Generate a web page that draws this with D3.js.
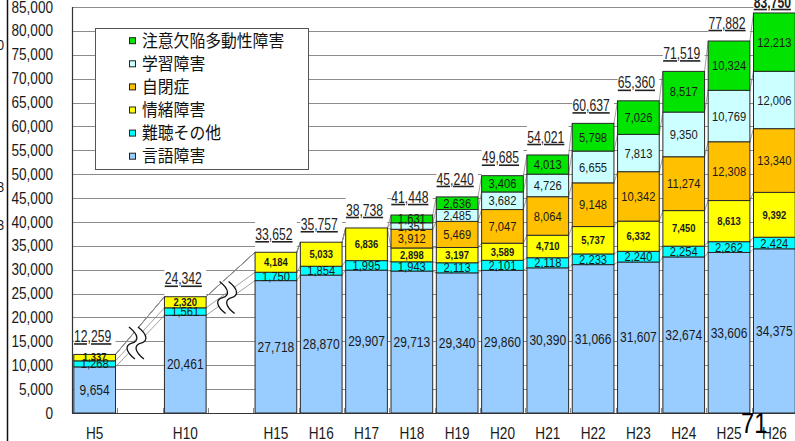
<!DOCTYPE html>
<html><head><meta charset="utf-8">
<script src="https://cdn.jsdelivr.net/npm/d3@7"></script>
<style>html,body{margin:0;padding:0;background:#fff;overflow:hidden}</style>
</head><body>
<svg id="c" width="795" height="441"></svg>
<script>
// ---------------- data ----------------
const categories = ["H5","H10","H15","H16","H17","H18","H19","H20","H21","H22","H23","H24","H25","H26"];
const breaksAfter = ["H5","H10"];
const yTickValues = [0,5000,10000,15000,20000,25000,30000,35000,40000,45000,50000,55000,60000,65000,70000,75000,80000,85000];
const seriesNames = ["言語障害","難聴その他","情緒障害","自閉症","学習障害","注意欠陥多動性障害"];
const gengo    = [9654,20461,27718,28870,29907,29713,29340,29860,30390,31066,31607,32674,33606,34375];
const nancho   = [1268,1561,1750,1854,1995,1943,2113,2101,2118,2233,2240,2254,2262,2424];
const jocho    = [1337,2320,4184,5033,6836,2898,3197,3589,4710,5737,6332,7450,8613,9392];
const jiheisho = [0,0,0,0,0,3912,5469,7047,8064,9148,10342,11274,12308,13340];
const gakushu  = [0,0,0,0,0,1351,2485,3682,4726,6655,7813,9350,10769,12006];
const adhd     = [0,0,0,0,0,1631,2636,3406,4013,5798,7026,8517,10324,12213];
const totals   = [12259,24342,33652,35757,38738,41448,45240,49685,54021,60637,65360,71519,77882,83750];
const pageNumber = "71";
const edgeFragments = [["0",45],["8",187],["3",225]];

// ---------------- styles ----------------
const colors = ["#99ccff","#00ffff","#ffff00","#ffc000","#ccffff","#00e400"];
const labelSize = [14,13,11,13,13,13];
const labelBold = [false,false,true,false,false,false];
const NUM_FONT = "'Liberation Sans', Arial, sans-serif";
const JP_FONT = "'Noto Sans CJK JP', sans-serif";

const svg = d3.select("#c");
const W = 795, H = 441;

// slots with gaps for axis breaks
const slots = [];
categories.forEach(c => { slots.push(c); if (breaksAfter.includes(c)) slots.push("_gap_" + c); });

const x = d3.scaleBand().domain(slots).range([72, 797]).paddingInner(0.08).paddingOuter(0.04);
const y = d3.scaleLinear().domain([0, 85000]).range([413, 7]);
const bw = x.bandwidth();

const seriesArrays = [gengo, nancho, jocho, jiheisho, gakushu, adhd];
const rows = categories.map((c, i) => {
  const r = {cat: c};
  seriesNames.forEach((s, k) => r[s] = seriesArrays[k][i]);
  return r;
});
const stacked = d3.stack().keys(seriesNames)(rows);

function txt(parent, tx, ty, str, size, sx, anchor, opts = {}) {
  const g = parent.append("g").attr("transform", `translate(${tx},${ty}) scale(${sx},1)`);
  const t = g.append("text").attr("x", 0).attr("y", 0)
    .attr("text-anchor", anchor)
    .attr("font-family", opts.font || NUM_FONT)
    .attr("font-size", size)
    .attr("fill", opts.fill || "#1a1a1a")
    .attr("font-weight", opts.bold ? "bold" : "normal")
    .attr("dy", opts.dy || "0.35em")
    .text(str);
  if (opts.underline) t.style("text-decoration", "underline");
  return t;
}

// left black edge line and clipped fragments
svg.append("line").attr("x1", 7.5).attr("x2", 7.5).attr("y1", 0).attr("y2", H)
  .attr("stroke", "#111").attr("stroke-width", 1.5);
edgeFragments.forEach(([s, yy]) => txt(svg, 4, yy, s, 15, 0.85, "end"));

// gridlines
svg.append("g").selectAll("line").data(yTickValues).join("line")
  .attr("x1", 72).attr("x2", W)
  .attr("y1", d => Math.round(y(d)) + 0.5).attr("y2", d => Math.round(y(d)) + 0.5)
  .attr("stroke", "#8c8c8c").attr("stroke-width", 1);

// white blocks above each bar (hide gridlines behind total labels)
svg.append("g").selectAll("rect").data(categories).join("rect")
  .attr("x", d => x(d)).attr("width", bw)
  .attr("y", (d, i) => y(totals[i]) - 32).attr("height", 32)
  .attr("fill", "#fff");

// series lines
const slg = svg.append("g");
stacked.forEach(layer => {
  for (let i = 0; i < categories.length - 1; i++) {
    slg.append("line")
      .attr("x1", x(categories[i]) + bw).attr("y1", y(layer[i][1]))
      .attr("x2", x(categories[i + 1])).attr("y2", y(layer[i + 1][1]))
      .attr("stroke", "#8a8a8a").attr("stroke-width", 0.8);
  }
});

// break marks
breaksAfter.forEach(c => {
  const i = categories.indexOf(c);
  const gx = x("_gap_" + c) + bw / 2 - 5;
  const t = (gx - (x(categories[i]) + bw)) / (x(categories[i + 1]) - (x(categories[i]) + bw));
  const yb = y(stacked[0][i][1]) + t * (y(stacked[0][i + 1][1]) - y(stacked[0][i][1]));
  const yc = y(stacked[1][i][1]) + t * (y(stacked[1][i + 1][1]) - y(stacked[1][i][1]));
  const cy = (yb + yc) / 2;
  const g = svg.append("g").attr("transform", `translate(${gx},${cy})`);
  const s = (dx) => `M${dx - 3},-16 C${dx + 7},-8 ${dx + 7},-2 ${dx},0 C${dx - 7},2 ${dx - 7},8 ${dx + 3},16`;
  g.append("path").attr("d", `M-6,-16 C4,-8 4,-2 -3,0 C-10,2 -10,8 0,16 L9,16 C-1,8 -1,2 6,0 C13,-2 13,-8 3,-16 Z`)
    .attr("fill", "#fff").attr("stroke", "none");
  [-3, 6].forEach(dx => g.append("path").attr("d", s(dx)).attr("fill", "none")
    .attr("stroke", "#111").attr("stroke-width", 1.3));
});

// bars
const barG = svg.append("g");
stacked.forEach((layer, k) => {
  barG.append("g").selectAll("rect").data(layer.filter(d => d[1] - d[0] > 0)).join("rect")
    .attr("x", d => x(d.data.cat)).attr("width", bw)
    .attr("y", d => y(d[1])).attr("height", d => y(d[0]) - y(d[1]))
    .attr("fill", colors[k]).attr("stroke", "#2a2a2a").attr("stroke-width", 1);
});

// segment labels
const labG = svg.append("g");
stacked.forEach((layer, k) => {
  layer.forEach(d => {
    const v = d[1] - d[0];
    if (v <= 0) return;
    const cx = x(d.data.cat) + bw / 2;
    const cy = (y(d[0]) + y(d[1])) / 2;
    txt(labG, cx, cy, d3.format(",")(v), labelSize[k], 0.86, "middle", {bold: labelBold[k]});
  });
});

// total labels
categories.forEach((c, i) => {
  const ty = Math.max(y(totals[i]) - 18, 2);
  txt(svg, x(c) + bw / 2 - 2, ty, d3.format(",")(totals[i]), 16, 0.76, "middle",
    {underline: true, fill: "#222", bold: i === categories.length - 1});
});

// category ticks (between slots)
const step = x.step();
const tg = svg.append("g");
for (let k = 1; k < slots.length; k++) {
  const bx = Math.round(x(slots[k]) - (step - bw) / 2) + 0.5;
  tg.append("line").attr("x1", bx).attr("x2", bx).attr("y1", 413).attr("y2", 408)
    .attr("stroke", "#8c8c8c");
}

// axes lines
svg.append("line").attr("x1", 72.5).attr("x2", 72.5).attr("y1", 7).attr("y2", 413.5)
  .attr("stroke", "#333").attr("stroke-width", 1.2);
svg.append("line").attr("x1", 72).attr("x2", W).attr("y1", 413.5).attr("y2", 413.5)
  .attr("stroke", "#333").attr("stroke-width", 1.2);

// y tick labels
yTickValues.forEach(v => txt(svg, 53, y(v), d3.format(",")(v), 16, 0.85, "end"));

// x labels
categories.forEach(c => txt(svg, x(c) + bw / 2, 439, c, 16, 0.85, "middle", {dy: "0"}));

// legend
const lg = svg.append("g");
lg.append("rect").attr("x", 95.5).attr("y", 28.5).attr("width", 213).attr("height", 141)
  .attr("fill", "#fff").attr("stroke", "#555").attr("stroke-width", 1);
const legendOrder = d3.range(seriesNames.length).reverse();
legendOrder.forEach((k, j) => {
  const ly = 40.7 + j * 23.1;
  lg.append("rect").attr("x", 129.5).attr("y", ly - 3).attr("width", 6).attr("height", 6)
    .attr("fill", colors[k]).attr("stroke", "#222").attr("stroke-width", 1);
  txt(lg, 142, ly, seriesNames[k], 17, 0.93, "start", {font: JP_FONT, fill: "#111"});
});

// page number
txt(svg, 741, 433, pageNumber, 29, 0.82, "start", {dy: "0", fill: "#000"});
</script>
</body></html>
